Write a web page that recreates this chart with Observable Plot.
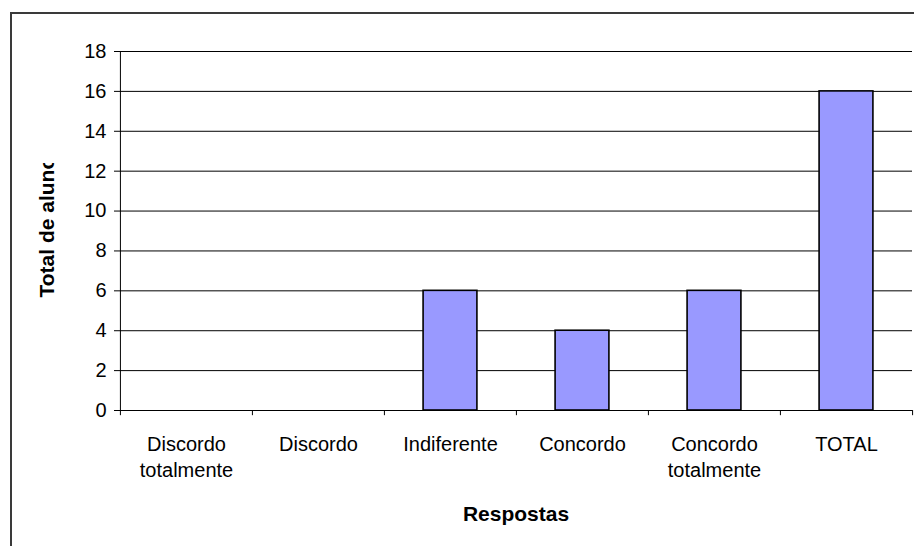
<!DOCTYPE html>
<html>
<head>
<meta charset="utf-8">
<script src="https://cdn.jsdelivr.net/npm/d3@7"></script>
<script src="https://cdn.jsdelivr.net/npm/@observablehq/plot@0.6"></script>
<style>
  html, body { margin: 0; padding: 0; background: #fff; overflow: hidden; }
  #wrap { position: relative; width: 914px; height: 546px; }
  #border { position: absolute; left: 10px; top: 12px; width: 960px; height: 600px;
            border-left: 2px solid #3a3a3a; border-top: 2px solid #3a3a3a; pointer-events: none; }
  svg { font-family: "Liberation Sans", Arial, sans-serif; }
</style>
</head>
<body>
<div id="wrap"><div id="border"></div></div>
<script>
// Respostas ao questionário
const categories = ["Discordo totalmente", "Discordo", "Indiferente", "Concordo", "Concordo totalmente", "TOTAL"];
const values = [0, 0, 6, 4, 6, 16];
const tickLabels = ["Discordo\ntotalmente", "Discordo", "Indiferente", "Concordo", "Concordo\ntotalmente", "TOTAL"];
const yTicks = [0, 2, 4, 6, 8, 10, 12, 14, 16, 18];

const data = categories.map((c, i) => ({category: c, value: values[i], label: tickLabels[i]}));

const width = 914, height = 546;
const marginLeft = 119, marginRight = 2, marginTop = 51, marginBottom = 136;
const bw = (width - marginLeft - marginRight) / categories.length;
const barWidth = 54;
const inset = (bw - barWidth) / 2;

const chart = Plot.plot({
  width, height, marginLeft, marginRight, marginTop, marginBottom,
  style: {fontFamily: "'Liberation Sans', Arial, sans-serif", color: "#000", background: "#fff"},
  x: {domain: categories, padding: 0, axis: null},
  y: {domain: [0, 18], axis: null},
  marks: [
    // horizontal gridlines (the one at 0 doubles as the x axis line)
    Plot.ruleY(yTicks, {stroke: "#000", strokeWidth: 1}),
    // vertical axis line
    Plot.ruleX([categories[0]], {dx: -bw / 2, y1: 0, y2: 18, stroke: "#000", strokeWidth: 1}),
    // category boundary ticks below the x axis
    Plot.ruleX(categories, {dx: -bw / 2, y1: 0, y2: -0.26, stroke: "#000", strokeWidth: 1}),
    Plot.ruleX([categories[categories.length - 1]], {dx: bw / 2, y1: 0, y2: -0.26, stroke: "#000", strokeWidth: 1}),
    Plot.barY(data.filter(d => d.value > 0), {
      x: "category", y: "value",
      fill: "#9999ff", stroke: "#000", strokeWidth: 1.6,
      insetLeft: inset, insetRight: inset
    }),
    Plot.axisY({ticks: yTicks, tickSize: 5, tickPadding: 8, fontSize: 20, label: null, stroke: "#000"}),
    Plot.axisX({tickSize: 0, tickPadding: 22, fontSize: 20, lineHeight: 1.3, label: null,
                tickFormat: d => tickLabels[categories.indexOf(d)]}),
    Plot.text(["Respostas"], {frameAnchor: "bottom", dy: 104, fontSize: 21, fontWeight: "bold", lineAnchor: "middle"}),
    Plot.text(["Total de alunos"], {frameAnchor: "left", dx: -72, dy: 66.5, rotate: -90, textAnchor: "start",
                                    fontSize: 21, fontWeight: "bold", lineAnchor: "middle", className: "ylabel"})
  ]
});

// the vertical title is cut off at the top of its box
const svg = d3.select(chart);
svg.insert("defs", ":first-child")
  .append("clipPath").attr("id", "ylabel-clip")
  .append("rect").attr("x", 0).attr("y", 163).attr("width", marginLeft).attr("height", height - 163);
svg.selectAll("g.ylabel").each(function () {
  const holder = document.createElementNS("http://www.w3.org/2000/svg", "g");
  holder.setAttribute("clip-path", "url(#ylabel-clip)");
  this.parentNode.insertBefore(holder, this);
  holder.appendChild(this);
});

document.getElementById("wrap").prepend(chart);
</script>
</body>
</html>
